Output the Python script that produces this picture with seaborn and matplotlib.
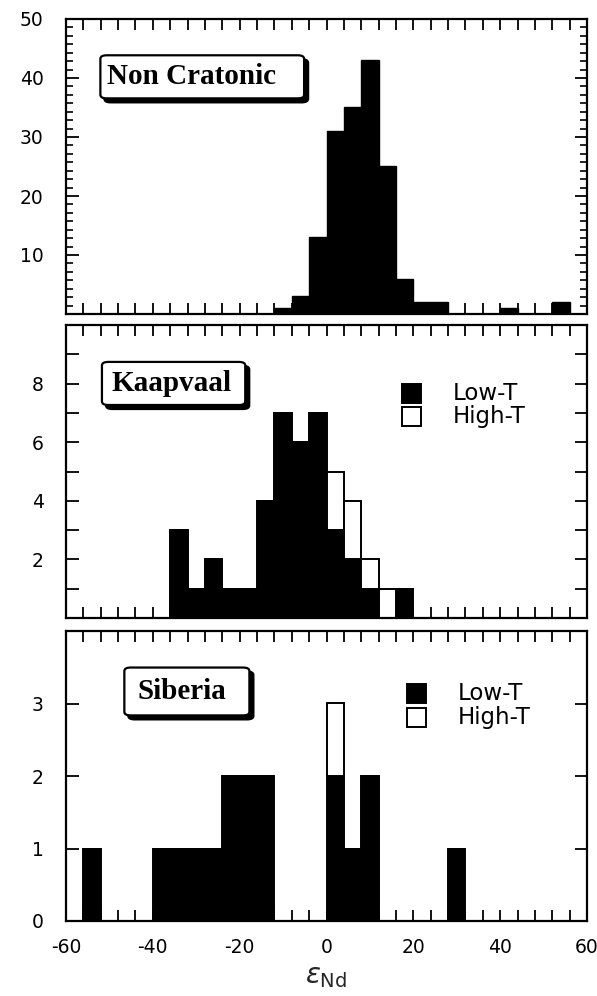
import numpy as np
import pandas as pd
import seaborn as sns
import matplotlib
matplotlib.use("Agg")
import matplotlib.pyplot as plt
from matplotlib.ticker import MultipleLocator, FuncFormatter
from matplotlib.patches import FancyBboxPatch, Rectangle
from matplotlib import transforms as mtransforms

# ---- data: epsilon-Nd histograms, 4-unit bins starting at -60 ----
BIN_WIDTH = 4
X_MIN, X_MAX = -60, 60

panel_names = ["Non Cratonic", "Kaapvaal", "Siberia"]
type_labels = ["Low-T", "High-T"]

# Non cratonic (single population): left edge of each occupied bin and its count
nc_left = [-12, -8, -4, 0, 4, 8, 12, 16, 20, 24, 40, 52]
nc_count = [1, 3, 13, 31, 35, 43, 25, 6, 2, 2, 1, 2]

# Kaapvaal
kv_low_left = [-36, -32, -28, -24, -20, -16, -12, -8, -4, 0, 4, 8, 16]
kv_low_count = [3, 1, 2, 1, 1, 4, 7, 6, 7, 3, 2, 1, 1]
kv_high_left = [0, 4, 8, 12]
kv_high_count = [2, 2, 1, 1]

# Siberia
sb_low_left = [-56, -40, -36, -32, -28, -24, -20, -16, 0, 4, 8, 28]
sb_low_count = [1, 1, 1, 1, 1, 2, 2, 2, 2, 1, 2, 1]
sb_high_left = [0]
sb_high_count = [1]

edges = list(range(X_MIN, X_MAX + BIN_WIDTH, BIN_WIDTH))


def typed_frame(low_left, low_count, high_left, high_count):
    return pd.DataFrame({
        "eps": np.r_[low_left, high_left].astype(float) + BIN_WIDTH / 2,
        "n": np.r_[low_count, high_count].astype(float),
        "type": [type_labels[0]] * len(low_left) + [type_labels[1]] * len(high_left),
    })


nc_df = pd.DataFrame({"eps": np.asarray(nc_left, float) + BIN_WIDTH / 2,
                      "n": np.asarray(nc_count, float)})
kv_df = typed_frame(kv_low_left, kv_low_count, kv_high_left, kv_high_count)
sb_df = typed_frame(sb_low_left, sb_low_count, sb_high_left, sb_high_count)

# ---- style ----
sns.set_theme(style="white")
plt.rcParams["font.family"] = ["DejaVu Sans"]
plt.rcParams["axes.unicode_minus"] = False
plt.rcParams["mathtext.fontset"] = "dejavusans"

fig = plt.figure(figsize=(5.97, 9.96), dpi=100)
W, H = 597, 996
left_px, right_px = 66, 587
panel_px = [(19, 314), (325, 618), (631, 921)]
axes = []
for top, bot in panel_px:
    axes.append(fig.add_axes([left_px / W, 1 - bot / H, (right_px - left_px) / W, (bot - top) / H]))

palette = {type_labels[0]: "black", type_labels[1]: "white"}

sns.histplot(data=nc_df, x="eps", weights="n", bins=edges, color="black",
             edgecolor="black", linewidth=1.0, alpha=1, ax=axes[0])
for ax, df in ((axes[1], kv_df), (axes[2], sb_df)):
    sns.histplot(data=df, x="eps", weights="n", hue="type",
                 hue_order=[type_labels[1], type_labels[0]], multiple="stack",
                 bins=edges, palette=palette, edgecolor="black", linewidth=1.4,
                 alpha=1, legend=False, ax=ax)

ylims = [(0, 50), (0, 10), (0, 4)]
for i, ax in enumerate(axes):
    ax.set_axisbelow(True)
    ax.set_xlim(X_MIN, X_MAX)
    ax.set_ylim(*ylims[i])
    ax.set_xlabel("")
    ax.set_ylabel("")
    for sp in ax.spines.values():
        sp.set_visible(True)
        sp.set_color("black")
        sp.set_linewidth(1.6)
    ax.xaxis.set_major_locator(MultipleLocator(BIN_WIDTH))
    ax.tick_params(axis="both", which="both", direction="in", top=True, right=True,
                   bottom=True, left=True, width=1.3, color="black", labelcolor="black",
                   labelsize=13.5)
    ax.tick_params(axis="x", which="major", length=8, pad=12)
    ax.tick_params(axis="y", which="major", length=9, pad=16)
    if i < 2:
        ax.tick_params(axis="x", labelbottom=False)
    else:
        ax.xaxis.set_major_formatter(FuncFormatter(
            lambda v, p: f"{v:.0f}" if round(v) % 20 == 0 else ""))

# y ticks per panel
axes[0].yaxis.set_major_locator(MultipleLocator(10))
axes[0].yaxis.set_minor_locator(MultipleLocator(10 / 7))
axes[0].tick_params(axis="y", which="minor", length=5, width=1.2)
axes[0].yaxis.set_major_formatter(FuncFormatter(lambda v, p: "" if v == 0 else f"{v:.0f}"))

axes[1].yaxis.set_major_locator(MultipleLocator(1))
axes[1].yaxis.set_major_formatter(FuncFormatter(
    lambda v, p: f"{v:.0f}" if (round(v) % 2 == 0 and 0 < v < 10) else ""))

axes[2].yaxis.set_major_locator(MultipleLocator(1))
axes[2].yaxis.set_major_formatter(FuncFormatter(lambda v, p: f"{v:.0f}" if v < 4 else ""))

axes[2].set_xlabel(r"$\varepsilon_{\mathrm{Nd}}$", fontsize=20, labelpad=4)

# ---- panel name boxes with drop shadow ----
boxes = [(0.066, 0.731, 0.457, 0.877), (0.069, 0.727, 0.344, 0.874), (0.112, 0.709, 0.352, 0.874)]
text_x = [0.079, 0.088, 0.138]
for ax, name, (x0, y0, x1, y1), tx in zip(axes, panel_names, boxes, text_x):
    shadow_tr = mtransforms.offset_copy(ax.transAxes, fig=fig, x=4, y=-4, units="dots")
    for tr, fc in ((shadow_tr, "black"), (ax.transAxes, "white")):
        ax.add_patch(FancyBboxPatch((x0, y0), x1 - x0, y1 - y0,
                                    boxstyle="round,pad=0,rounding_size=0.012",
                                    transform=tr, facecolor=fc, edgecolor="black",
                                    linewidth=1.6, zorder=5))
    ax.text(tx, (y0 + y1) / 2, name, transform=ax.transAxes,
            ha="left", va="center", fontsize=21, fontweight="bold",
            family="Liberation Serif", color="black", zorder=6)

# ---- Low-T / High-T keys ----
key_pos = {1: (0.644, 0.742, [0.767, 0.689]), 2: (0.654, 0.752, [0.783, 0.703])}
for idx, (sq_x, txt_x, rows) in key_pos.items():
    ax = axes[idx]
    ax_h_px = panel_px[idx][1] - panel_px[idx][0]
    sq_w = 19 / (right_px - left_px)
    sq_h = 19 / ax_h_px
    for label, yc in zip(type_labels, rows):
        ax.add_patch(Rectangle((sq_x, yc - sq_h / 2), sq_w, sq_h, transform=ax.transAxes,
                               facecolor=palette[label], edgecolor="black",
                               linewidth=1.4, zorder=5))
        ax.text(txt_x, yc, label, transform=ax.transAxes, ha="left", va="center",
                fontsize=16.5, color="black", zorder=6)

fig.savefig("out.png", dpi=100)
